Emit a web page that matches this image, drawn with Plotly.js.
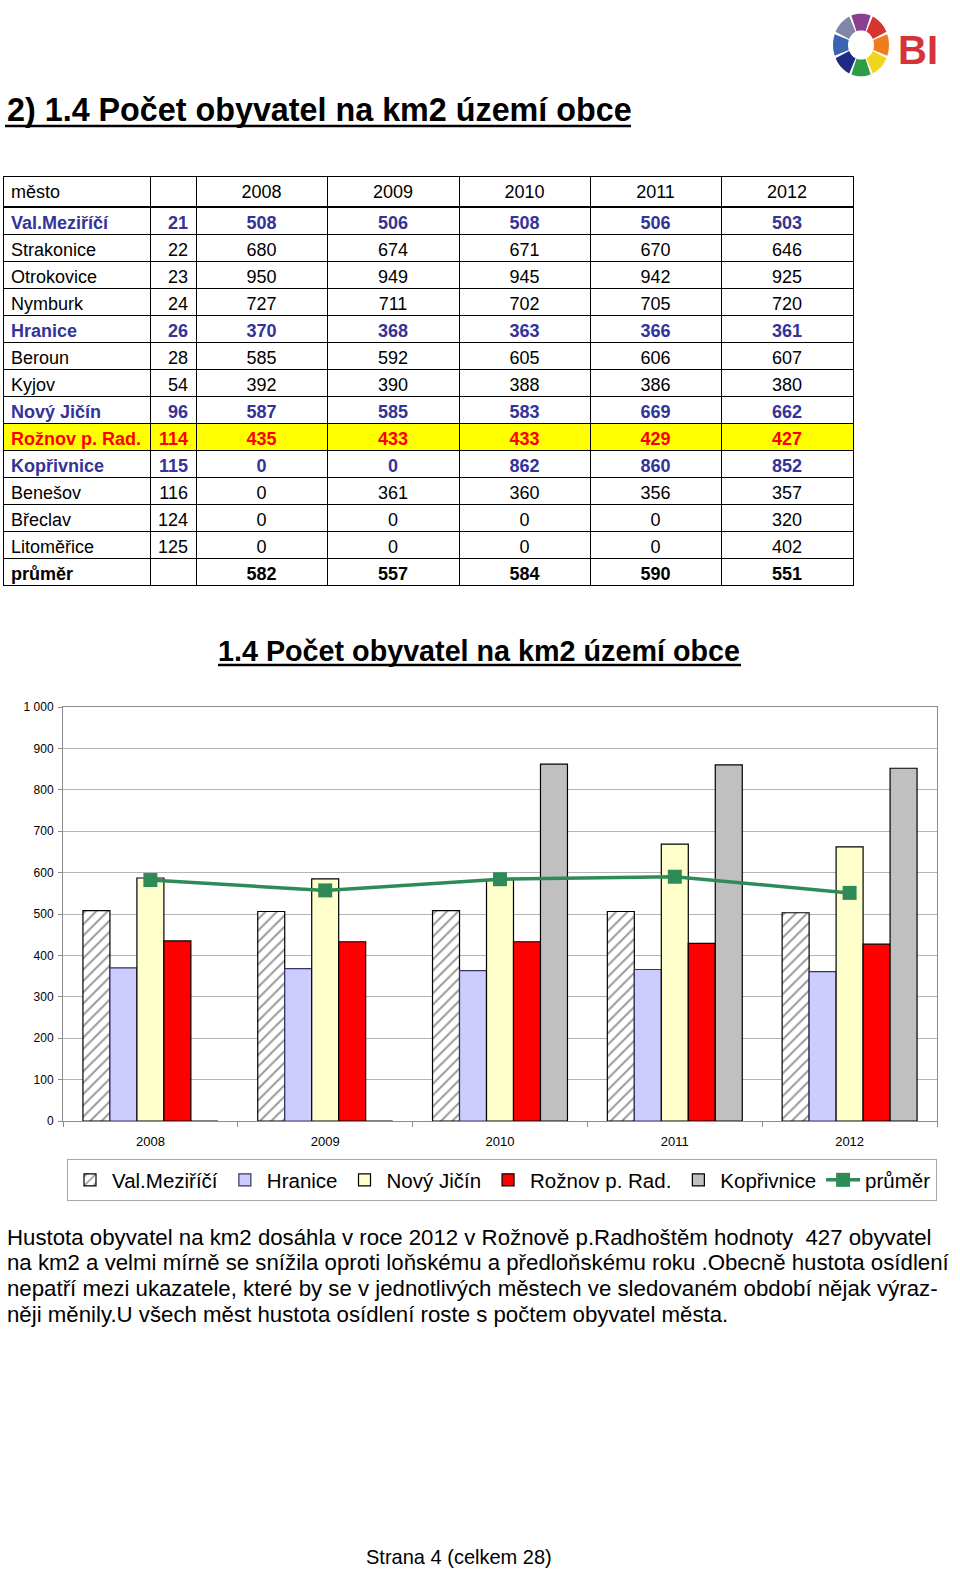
<!DOCTYPE html>
<html>
<head>
<meta charset="utf-8">
<script src="https://cdn.plot.ly/plotly-3.0.1.min.js"></script>
<style>
html,body{margin:0;padding:0;background:#fff;}
#page{width:960px;height:1571px;}
</style>
</head>
<body>
<div id="page"></div>
<script>
// ---------- DATA ----------
const cities = ['Val.Meziříčí','Strakonice','Otrokovice','Nymburk','Hranice','Beroun','Kyjov','Nový Jičín','Rožnov p. Rad.','Kopřivnice','Benešov','Břeclav','Litoměřice'];
const codes  = [21,22,23,24,26,28,54,96,114,115,116,124,125];
const years  = ['2008','2009','2010','2011','2012'];
const v2008 = [508,680,950,727,370,585,392,587,435,0,0,0,0];
const v2009 = [506,674,949,711,368,592,390,585,433,0,361,0,0];
const v2010 = [508,671,945,702,363,605,388,583,433,862,360,0,0];
const v2011 = [506,670,942,705,366,606,386,669,429,860,356,0,0];
const v2012 = [503,646,925,720,361,607,380,662,427,852,357,320,402];
const averages = [582,557,584,590,551];
const avgLabel = 'průměr';
const headerLabel = 'město';
const chartCities = ['Val.Meziříčí','Hranice','Nový Jičín','Rožnov p. Rad.','Kopřivnice'];
const focusCity = 'Rožnov p. Rad.';
const pageTitle = '2) 1.4 Počet obyvatel na km2 území obce';
const chartTitle = '1.4 Počet obyvatel na km2 území obce';
const paragraph = [
  'Hustota obyvatel na km2 dosáhla v roce 2012 v Rožnově p.Radhoštěm hodnoty  427 obyvatel',
  'na km2 a velmi mírně se snížila oproti loňskému a předloňskému roku .Obecně hustota osídlení',
  'nepatří mezi ukazatele, které by se v jednotlivých městech ve sledovaném období nějak výraz-',
  'něji měnily.U všech měst hustota osídlení roste s počtem obyvatel města.'
];
const footer = 'Strana 4 (celkem 28)';

// ---------- helpers ----------
const W = 960, H = 1571;
const px = x => x / W;
const py = y => 1 - y / H;
const yearCols = [v2008, v2009, v2010, v2011, v2012];
const FAM = 'Liberation Sans, Arial, sans-serif';
const cv = document.createElement('canvas').getContext('2d');
function fitSize(text, bold, target){
  cv.font = (bold ? 'bold ' : '') + '100px "Liberation Sans", Arial, sans-serif';
  const w = cv.measureText(text).width;
  return 100 * target / w;
}

// ---------- table ----------
const BLUE = '#333399', RED = '#ff0000', YEL = '#ffff00';
function styleOf(c){ return c === focusCity ? 'focus' : (chartCities.includes(c) ? 'hl' : 'n'); }
const rowStyles = cities.map(styleOf).concat(['avg']);
const nb = s => s.replace(/ /g, '\u00a0');   // keep names on one line
const colCity = cities.concat([avgLabel]).map(nb);
const colCode = codes.map(String).concat(['']);
const colYears = yearCols.map((col,j)=> col.map(String).concat([String(averages[j])]));
const fontColors = rowStyles.map(s => s==='hl' ? BLUE : (s==='focus' ? RED : '#000'));
const fontWeights = rowStyles.map(s => s==='n' ? 'normal' : 'bold');
const fillColors = rowStyles.map(s => s==='focus' ? YEL : '#fff');
const rep = a => [a,a,a,a,a,a,a];

const tableTrace = {
  type: 'table',
  domain: {x: [px(3), px(853)], y: [py(590), py(176)]},
  columnwidth: [147, 46, 131, 132, 131, 131, 132],
  header: {
    values: [[headerLabel], [''], [years[0]], [years[1]], [years[2]], [years[3]], [years[4]]],
    align: ['left','right','center','center','center','center','center'],
    height: 31,
    line: {color: '#000', width: 1},
    fill: {color: '#fff'},
    font: {family: FAM, size: 18, color: '#000'}
  },
  cells: {
    values: [colCity, colCode].concat(colYears),
    align: ['left','right','center','center','center','center','center'],
    height: 27,
    line: {color: '#000', width: 1},
    fill: {color: rep(fillColors)},
    font: {family: FAM, size: 18, color: rep(fontColors), weight: rep(fontWeights)}
  }
};

// ---------- chart ----------
const seriesStyle = {
  'Val.Meziříčí': {color: '#ffffff', pattern: {shape: '/', fgcolor: '#9a9a9a', bgcolor: '#ffffff', size: 8, solidity: 0.25}, line: '#000'},
  'Hranice': {color: '#ccccff', line: '#333366'},
  'Nový Jičín': {color: '#ffffcc', line: '#000'},
  'Rožnov p. Rad.': {color: '#ff0000', line: '#000'},
  'Kopřivnice': {color: '#c0c0c0', line: '#000'}
};
const barTraces = chartCities.map(name => {
  const i = cities.indexOf(name);
  const st = seriesStyle[name];
  const vals = yearCols.map(col => col[i]);
  const m = {color: st.color, line: {color: st.line, width: 1.2}};
  if (st.pattern) m.pattern = st.pattern;
  return {type: 'bar', name: name, x: years, y: vals, marker: m, xaxis: 'x', yaxis: 'y'};
});
const avgTrace = {
  type: 'scatter', mode: 'lines+markers', name: avgLabel, x: years, y: averages,
  line: {color: '#2e8b57', width: 3.5},
  marker: {symbol: 'square', size: 14, color: '#2e8b57'},
  xaxis: 'x', yaxis: 'y'
};

// ---------- logo shapes ----------
const logoColors = ['#8a3f8f','#d8342f','#ee7d1e','#f2d41c','#2f9d45','#1f2a86','#3b62b3','#7f86a6'];
const cx = 861, cy = 45, rO = 28, rI = 13;
const logoShapes = logoColors.map((c,k) => {
  const a0 = -Math.PI/2 + k*Math.PI/4 - Math.PI/8 + 0.04, a1 = a0 + Math.PI/4 - 0.08;
  const P = (r,a) => px(cx + r*Math.cos(a)) + ',' + py(cy + r*1.12*Math.sin(a));
  let d = 'M' + P(rO,a0);
  for (let t=1;t<=6;t++) d += ' L' + P(rO, a0 + (a1-a0)*t/6);
  d += ' L' + P(rI, a1);
  for (let t=5;t>=0;t--) d += ' L' + P(rI, a0 + (a1-a0)*t/6);
  d += ' Z';
  return {type:'path', xref:'paper', yref:'paper', path:d, fillcolor:c, line:{width:0}};
});

const shapes = [
  {type:'line', xref:'paper', yref:'paper', x0:px(5), x1:px(631), y0:py(126), y1:py(126), line:{color:'#000', width:2.5}},
  {type:'line', xref:'paper', yref:'paper', x0:px(218), x1:px(741), y0:py(665), y1:py(665), line:{color:'#000', width:2.5}},
  {type:'line', xref:'paper', yref:'paper', x0:px(3), x1:px(853), y0:py(207), y1:py(207), line:{color:'#000', width:2}}
].concat(logoShapes);

const titleSize = fitSize(pageTitle, true, 625);
const chartTitleSize = fitSize(chartTitle, true, 522);
const paraSize = fitSize(paragraph[0], false, 925);
const footerSize = fitSize(footer, false, 186);

const annotations = [
  {text:'<b>'+pageTitle+'</b>', xref:'paper', yref:'paper', x:px(5), y:py(110), xanchor:'left', yanchor:'middle', showarrow:false,
   font:{family:FAM, size:titleSize, color:'#000'}},
  {text:'<b>'+chartTitle+'</b>', xref:'paper', yref:'paper', x:px(479), y:py(651), xanchor:'center', yanchor:'middle', showarrow:false,
   font:{family:FAM, size:chartTitleSize, color:'#000'}},
  {text:'<b>BI</b>', xref:'paper', yref:'paper', x:px(918), y:py(50), xanchor:'center', yanchor:'middle', showarrow:false,
   font:{family:FAM, size:40, color:'#d2343a'}},
  {text:footer, xref:'paper', yref:'paper', x:px(459), y:py(1557), xanchor:'center', yanchor:'middle', showarrow:false,
   font:{family:FAM, size:footerSize, color:'#000'}}
].concat(paragraph.map((t,k)=>({
  text:t, xref:'paper', yref:'paper', x:px(5), y:py(1237 + k*25.7), xanchor:'left', yanchor:'middle', showarrow:false,
  font:{family:FAM, size:paraSize, color:'#000'}
})));

const layout = {
  width: W, height: H,
  margin: {l:0, r:0, t:0, b:0, pad:0},
  paper_bgcolor: '#fff', plot_bgcolor: '#fff',
  separators: ', ',
  showlegend: true,
  barmode: 'group', bargap: 0.228, bargroupgap: 0,
  xaxis: {
    domain: [px(63), px(937)], anchor: 'y', type: 'category',
    showline: true, linecolor: '#8c8c8c', linewidth: 1, mirror: true,
    ticks: 'outside', tickson: 'boundaries', ticklen: 5, tickcolor: '#8c8c8c',
    ticklabelstandoff: 8,
    showgrid: false, zeroline: false,
    tickfont: {family:FAM, size:13, color:'#000'}
  },
  yaxis: {
    domain: [py(1121), py(707)], anchor: 'x', range: [0, 1000], dtick: 100, tick0: 0,
    separatethousands: true,
    showline: true, linecolor: '#8c8c8c', linewidth: 1, mirror: true,
    ticks: 'outside', ticklen: 4, tickcolor: '#8c8c8c',
    ticklabelstandoff: 2,
    showgrid: true, gridcolor: '#b4b4b4', gridwidth: 1, zeroline: false,
    tickfont: {family:FAM, size:12, color:'#000'}
  },
  legend: {
    orientation: 'h', x: px(67), y: py(1159), xanchor: 'left', yanchor: 'top',
    bordercolor: '#a8a8a8', borderwidth: 1, bgcolor: '#fff',
    font: {family:FAM, size:20.5, color:'#000'},
    itemwidth: 34, tracegroupgap: 0
  },
  shapes: shapes,
  annotations: annotations
};

Plotly.newPlot('page', [tableTrace].concat(barTraces, [avgTrace]), layout, {displayModeBar:false, staticPlot:true});
</script>
</body>
</html>
